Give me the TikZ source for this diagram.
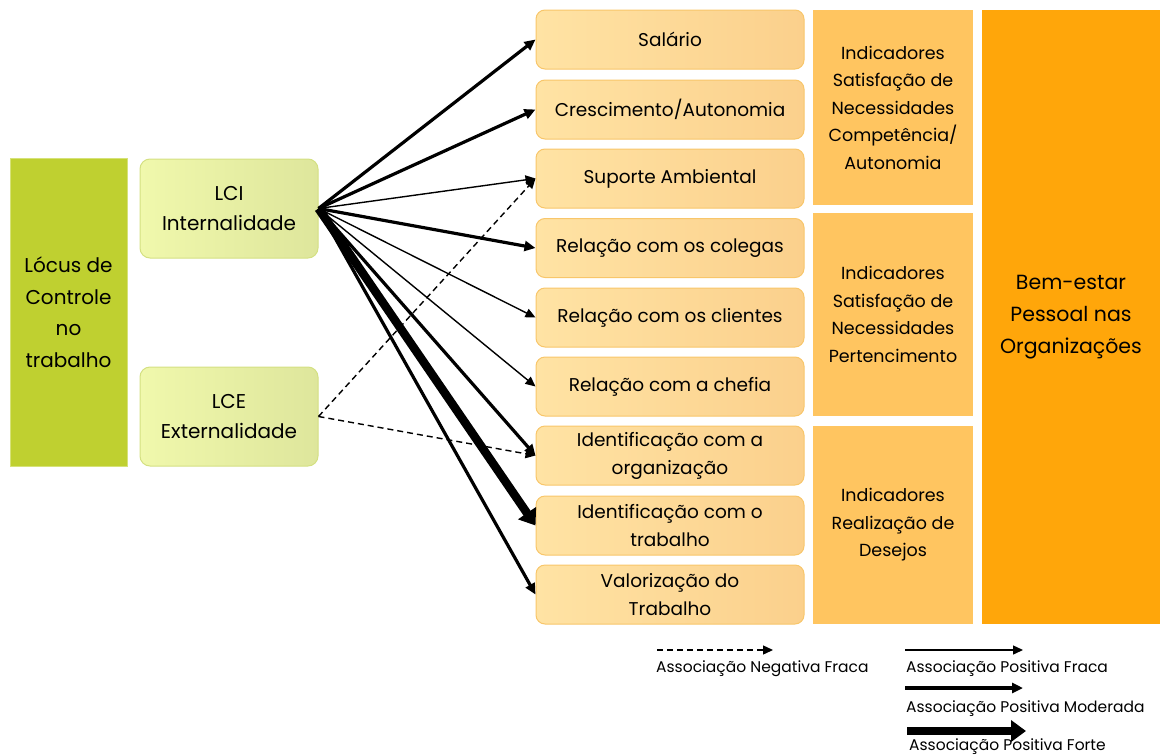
\documentclass[tikz,border=0pt]{standalone}
\usepackage{fontspec}
\setmainfont{Poppins}
\usepackage{tikz}
\usetikzlibrary{arrows.meta}
\definecolor{oliva}{RGB}{191,208,48}
\definecolor{olivaclara}{RGB}{214,226,120}
\definecolor{limaA}{RGB}{240,248,172}
\definecolor{limaB}{RGB}{222,230,156}
\definecolor{limaborda}{RGB}{212,224,130}
\definecolor{pessegoA}{RGB}{255,227,164}
\definecolor{pessegoB}{RGB}{251,208,140}
\definecolor{pessegoborda}{RGB}{248,198,106}
\definecolor{ocre}{RGB}{255,197,96}
\definecolor{laranja}{RGB}{255,166,10}
\tikzset{
  txt/.style={font=\fontsize{18.5}{28}\selectfont, align=center, text=black},
  lcbox/.style={txt, font=\fontsize{20}{30}\selectfont, rounded corners=10pt, draw=limaborda, line width=1pt,
    left color=limaA, right color=limaB, minimum width=178pt, minimum height=99pt},
  itembox/.style={txt, rounded corners=9pt, draw=pessegoborda, line width=1pt,
    left color=pessegoA, right color=pessegoB, minimum width=268pt, minimum height=59pt},
  indbox/.style={txt, font=\fontsize{17.5}{27.5}\selectfont, fill=ocre, minimum width=160pt},
  fraca/.style={line width=1.4pt, -{Triangle[length=10pt,width=9pt]}},
  moderada/.style={line width=3.2pt, -{Triangle[length=11pt,width=10pt]}},
  forte/.style={line width=8.5pt, -{Triangle[length=15pt,width=21pt]}},
  negativa/.style={line width=1.4pt, dash pattern=on 6pt off 4pt, -{Triangle[length=10pt,width=9pt]}},
  legtxt/.style={font=\fontsize{15.5}{17}\selectfont, anchor=west, inner sep=0pt}
}
\begin{document}
\begin{tikzpicture}[x=1pt,y=-1pt]
\useasboundingbox (0,0) rectangle (1162,755);
% colunas
\node[txt, font=\fontsize{20}{31.5}\selectfont, fill=oliva, draw=olivaclara, minimum width=117pt, minimum height=308pt] (locus) at (68.5,312) {Lócus de\\Controle\\no\\trabalho};
\node[lcbox] (lci) at (229,208.5) {LCI\\Internalidade};
\node[lcbox] (lce) at (229,416.5) {LCE\\Externalidade};
% indicadores
\node[itembox] (sal) at (670,39.5) {Salário};
\node[itembox] (cre) at (670,109.5) {Crescimento/Autonomia};
\node[itembox] (sup) at (670,178.5) {Suporte Ambiental};
\node[itembox] (col) at (670,248) {Relação com os colegas};
\node[itembox] (cli) at (670,317.5) {Relação com os clientes};
\node[itembox] (che) at (670,386.5) {Relação com a chefia};
\node[itembox] (org) at (670,455.5) {Identificação com a\\organização};
\node[itembox] (tra) at (670,525.5) {Identificação com o\\trabalho};
\node[itembox] (val) at (670,594.5) {Valorização do\\Trabalho};
\node[indbox, minimum height=195pt] (comp) at (893,107.5) {Indicadores\\Satisfação de\\Necessidades\\Competência/\\Autonomia};
\node[indbox, minimum height=203pt] (pert) at (893,314.5) {Indicadores\\Satisfação de\\Necessidades\\Pertencimento};
\node[indbox, minimum height=198pt] (des) at (893,525) {Indicadores\\Realização de\\Desejos};
\node[txt, font=\fontsize{20.5}{32}\selectfont, fill=laranja, minimum width=178pt, minimum height=614pt] (bem) at (1071,317) {Bem-estar\\Pessoal nas\\Organizações};
% associacoes
\draw[moderada] (lci.east) -- (sal.west);
\draw[moderada] (lci.east) -- (cre.west);
\draw[fraca] (lci.east) -- (sup.west);
\draw[moderada] (lci.east) -- (col.west);
\draw[fraca] (lci.east) -- (cli.west);
\draw[fraca] (lci.east) -- (che.west);
\draw[moderada] (lci.east) -- (org.west);
\draw[forte] (lci.east) -- (tra.west);
\draw[moderada] (lci.east) -- (val.west);
\draw[negativa] (lce.east) -- (sup.west);
\draw[negativa] (lce.east) -- (org.west);
% legenda
\coordinate (n1) at (657,650); \coordinate (n2) at (773,650);
\coordinate (f1) at (905,650); \coordinate (f2) at (1023,650);
\coordinate (m1) at (905,688); \coordinate (m2) at (1023,688);
\coordinate (s1) at (907,731); \coordinate (s2) at (1026,731);
\draw[negativa] (n1) -- (n2);
\draw[fraca] (f1) -- (f2);
\draw[moderada] (m1) -- (m2);
\draw[forte] (s1) -- (s2);
\node[legtxt] (ln) at (656,669) {Associação Negativa Fraca};
\node[legtxt] (lf) at (906,669) {Associação Positiva Fraca};
\node[legtxt] (lm) at (906,709) {Associação Positiva Moderada};
\node[legtxt] (ls) at (909,747) {Associação Positiva Forte};
\end{tikzpicture}
\end{document}
